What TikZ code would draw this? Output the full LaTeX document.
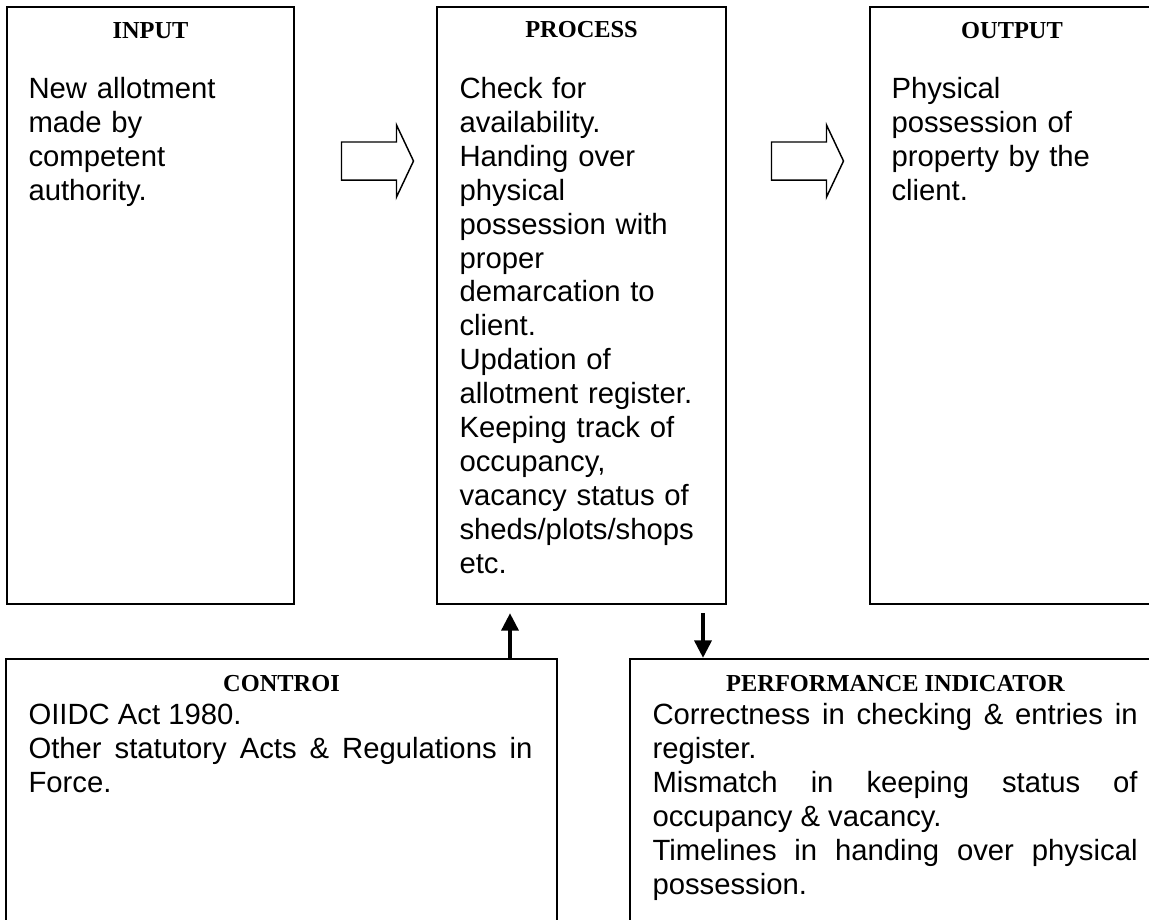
\documentclass[tikz,border=0pt]{standalone}
\usepackage{fontspec}
\setmainfont{Liberation Sans}
\newfontfamily\headfont{Liberation Serif}
\usetikzlibrary{fit,calc,arrows.meta}
\begin{document}
\begin{tikzpicture}[x=0.41pt, y=-0.41pt,
    box/.style={draw, line width=0.8pt, inner sep=0pt},
    head/.style={font=\headfont\bfseries\fontsize{10}{12}\selectfont, anchor=base, inner sep=0pt},
    body/.style={font=\fontsize{12}{13.9}\selectfont, anchor=north west, inner sep=0pt, text width=104pt, align=left},
    just/.style={body, align=justify},
    blk/.style={draw, line width=0.6pt, line join=miter},
    conn/.style={line width=1.8pt, -{Triangle[width=6.8pt,length=7.2pt]}}]
    \useasboundingbox (0,0) rectangle (1149,920);
    \clip (0,0) rectangle (1149,920);
    \node[box, fit={(7,7) (294,604)}] (input) {};
    \node[box, fit={(437,7) (726,604)}] (process) {};
    \node[box, fit={(870,7) (1154,604)}] (output) {};
    \node[box, fit={(6,659) (557,935)}] (control) {};
    \node[box, fit={(630,659) (1161,935)}] (perf) {};
    \node[head] (inputhead) at ($(input.north)+(0,32)$) {INPUT};
    \node[head] (processhead) at ($(process.north)+(0,31)$) {PROCESS};
    \node[head] (outputhead) at ($(output.north)+(0,32)$) {OUTPUT};
    \node[head] (controlhead) at ($(control.north)+(0,33.5)$) {CONTROI};
    \node[head] (perfhead) at ($(perf.north)+(0,33.5)$) {PERFORMANCE INDICATOR};
    \node[body] (inputtext) at ($(input.north west)+(22,68.3)$)
        {\strut New allotment\\made by\\competent\\authority.};
    \node[body] (processtext) at ($(process.north west)+(23,68.3)$)
        {\strut Check for\\availability.\\Handing over\\physical\\possession with\\proper\\demarcation to\\client.\\Updation of\\allotment register.\\Keeping track of\\occupancy,\\vacancy status of\\sheds/plots/shops\\etc.};
    \node[body] (outputtext) at ($(output.north west)+(22,68.3)$)
        {\strut Physical\\possession of\\property by the\\client.};
    \node[just, text width=206.6pt] (controltext) at ($(control.north west)+(23,42.3)$)
        {\strut OIIDC Act 1980.\\Other statutory Acts \& Regulations in\linebreak Force.};
    \node[just, text width=198.9pt] (perftext) at ($(perf.north west)+(23,42.3)$)
        {\strut Correctness in checking \& entries in\linebreak register.\\Mismatch in keeping status of\linebreak occupancy \& vacancy.\\Timelines in handing over physical\linebreak possession.};
    \foreach \a/\b in {input/process, output/process}
        \draw[blk, shift={($(\a.north east)!0.5!(\b.north west)+(-24,155)$)}]
            (0,-19) -- (55,-19) -- (55,-36) -- (72,0) -- (55,36) -- (55,19) -- (0,19) -- cycle;
    \coordinate (upx) at (510,0);
    \coordinate (dnx) at (703,0);
    \draw[conn, shorten >=3.3pt] (upx |- control.north) -- (upx |- process.south);
    \draw[conn, shorten <=3.3pt] (dnx |- process.south) -- (dnx |- perf.north);
\end{tikzpicture}
\end{document}
